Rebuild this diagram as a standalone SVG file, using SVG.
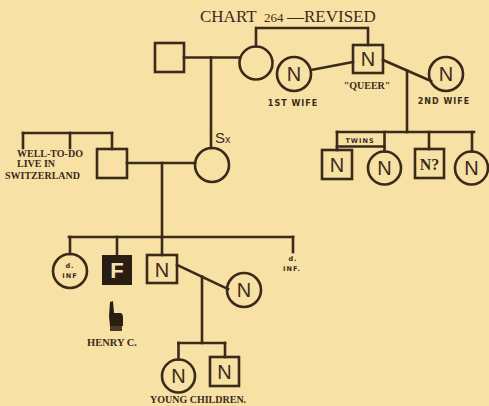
<svg xmlns="http://www.w3.org/2000/svg" width="489" height="406" viewBox="0 0 489 406">
<style>
.bg{fill:#f7e1a5}
.ln{stroke:#3b2a1a;stroke-width:2.6;fill:none;stroke-linecap:square}
.nd{stroke:#3b2a1a;stroke-width:2.6;fill:none}
.nf{font-family:"Liberation Sans","DejaVu Sans",sans-serif;font-size:20px;fill:#3b2a1a;text-anchor:middle}
.sf{font-family:"Liberation Serif","DejaVu Serif",serif;font-weight:bold;font-size:10px;fill:#3b2a1a}
.sm{font-family:"DejaVu Sans","Liberation Sans",sans-serif;font-weight:bold;font-size:7.5px;fill:#3b2a1a;text-anchor:middle;letter-spacing:1px}
</style>
<rect class="bg" x="0" y="0" width="489" height="406"/>
<g id="title">
<text y="22" font-family="Liberation Serif, serif" fill="#3b2a1a"><tspan x="200" font-size="17">CHART</tspan><tspan x="264" font-size="13">264</tspan><tspan x="287" font-size="17">—REVISED</tspan></text>
</g>
<g id="connectors" class="ln">
<line x1="184" y1="57.5" x2="240" y2="57.5"/>
<line x1="211" y1="57.5" x2="211" y2="148"/>
<polyline points="256,46.5 256,28 368,28 368,45"/>
<line x1="311" y1="70" x2="353" y2="62"/>
<line x1="383" y1="60" x2="431" y2="81"/>
<line x1="407" y1="71" x2="407" y2="132"/>
<line x1="337" y1="132" x2="474" y2="132"/>
<line x1="337" y1="132" x2="337" y2="150"/>
<line x1="384.5" y1="132" x2="384.5" y2="151.5"/>
<line x1="337" y1="146.5" x2="384.5" y2="146.5"/>
<line x1="429" y1="132" x2="429" y2="149"/>
<line x1="472" y1="132" x2="472" y2="151.5"/>
<line x1="23" y1="133" x2="112" y2="133"/>
<line x1="23" y1="133" x2="23" y2="148"/>
<line x1="70" y1="133" x2="70" y2="148"/>
<line x1="112" y1="133" x2="112" y2="149"/>
<line x1="127" y1="163" x2="195" y2="163"/>
<line x1="162" y1="163" x2="162" y2="237"/>
<line x1="69" y1="237" x2="293" y2="237"/>
<line x1="70" y1="237" x2="70" y2="254"/>
<line x1="117" y1="237" x2="117" y2="255"/>
<line x1="162" y1="237" x2="162" y2="255"/>
<line x1="293" y1="237" x2="293" y2="252"/>
<line x1="177" y1="265" x2="228" y2="289"/>
<line x1="202" y1="276.5" x2="202" y2="343"/>
<line x1="178.5" y1="343" x2="225" y2="343"/>
<line x1="178.5" y1="343" x2="178.5" y2="359.5"/>
<line x1="225" y1="343" x2="225" y2="357"/>
</g>
<g id="grandfather"><rect class="nd" x="155" y="43" width="29" height="29"/></g>
<g id="grandmother"><circle class="nd" cx="256" cy="63" r="16.5"/></g>
<g id="queer"><rect class="nd" x="353" y="45" width="30" height="28"/><text class="nf" x="368" y="66">N</text><text class="sf" x="367" y="89" text-anchor="middle">"QUEER"</text></g>
<g id="wife1"><circle class="nd" cx="294" cy="74" r="17"/><text class="nf" x="294" y="81">N</text><text class="sm" x="293" y="106" style="font-size:8px">1ST WIFE</text></g>
<g id="wife2"><circle class="nd" cx="446" cy="74" r="17"/><text class="nf" x="446" y="81">N</text><text class="sm" x="444" y="104" style="font-size:8px">2ND WIFE</text></g>
<g id="twins-label"><text class="sm" x="360" y="143" style="font-size:6.5px">TWINS</text></g>
<g id="twin1"><rect class="nd" x="322" y="150" width="30" height="29"/><text class="nf" x="337" y="172">N</text></g>
<g id="twin2"><circle class="nd" cx="384.5" cy="168" r="16.5"/><text class="nf" x="384.5" y="175">N</text></g>
<g id="child3"><rect class="nd" x="415" y="149" width="29" height="29"/><text x="429.5" y="170" font-family="Liberation Serif, serif" font-weight="bold" font-size="16" fill="#3b2a1a" text-anchor="middle">N?</text></g>
<g id="child4"><circle class="nd" cx="471.5" cy="168" r="16.5"/><text class="nf" x="471.5" y="175">N</text></g>
<g id="swiss"><text class="sf" x="17" y="157">WELL-TO-DO</text><text class="sf" x="17" y="167">LIVE IN</text><text class="sf" x="5" y="179">SWITZERLAND</text></g>
<g id="father"><rect class="nd" x="97" y="149" width="30" height="29"/></g>
<g id="mother"><circle class="nd" cx="212" cy="165" r="17"/><text x="215" y="143" font-family="Liberation Sans, sans-serif" fill="#3b2a1a"><tspan font-size="15">S</tspan><tspan font-size="11">x</tspan></text></g>
<g id="infant1"><circle class="nd" cx="70" cy="271" r="17"/><text class="sm" x="70" y="268" style="font-size:6.5px">d.</text><text class="sm" x="70" y="278" style="font-size:6.5px">INF</text></g>
<g id="henry"><rect x="102" y="255" width="30" height="30" fill="#2a1d12"/><text class="nf" x="117" y="278" style="font-weight:bold;font-size:22px;fill:#f3e1b0">F</text>
<path d="M110 302 L113 301 L114 313 L121 313 Q123 314 123 317 L123 326 L110 326 L109 316 Z" fill="#2a1d12"/><rect x="110" y="326" width="12" height="5" fill="#4a3a28"/>
<text class="sf" x="87" y="346" style="font-size:10.5px">HENRY C.</text></g>
<g id="son"><rect class="nd" x="147" y="255" width="30" height="28"/><text class="nf" x="162" y="277">N</text></g>
<g id="son-wife"><circle class="nd" cx="244" cy="290" r="17"/><text class="nf" x="244" y="297">N</text></g>
<g id="infant2"><text class="sm" x="293" y="261" style="font-size:6.5px">d.</text><text class="sm" x="292" y="271" style="font-size:6.5px">INF.</text></g>
<g id="gchild1"><circle class="nd" cx="178.5" cy="376" r="16.5"/><text class="nf" x="178.5" y="383">N</text></g>
<g id="gchild2"><rect class="nd" x="210" y="357" width="29" height="29"/><text class="nf" x="224.5" y="379">N</text></g>
<g id="young"><text class="sf" x="150" y="403">YOUNG CHILDREN.</text></g>
</svg>
